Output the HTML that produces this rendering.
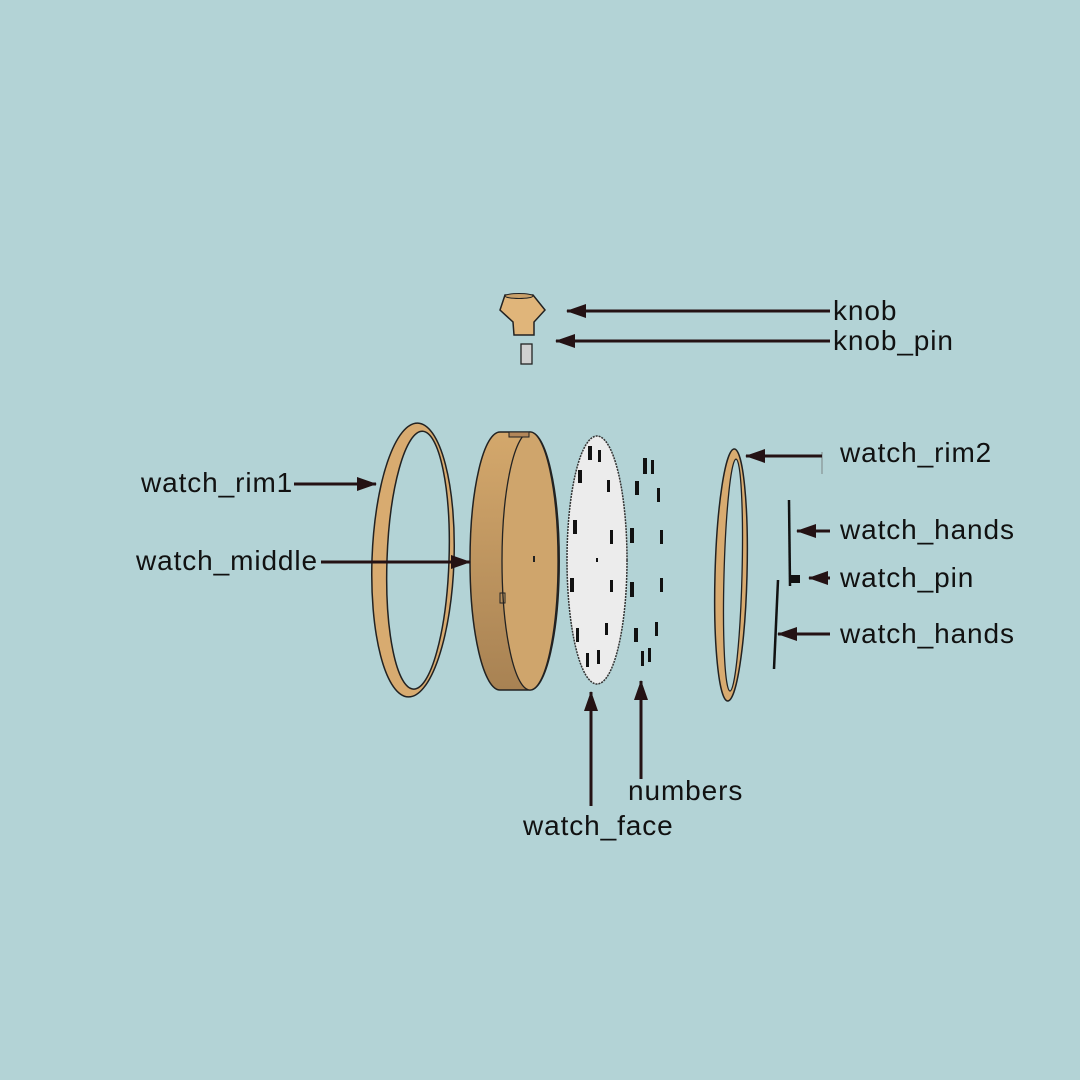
<!DOCTYPE html>
<html><head><style>
html,body{margin:0;padding:0;background:#b3d3d6;}
svg{display:block;}
text{font-family:"Liberation Sans",sans-serif;font-size:28px;letter-spacing:0.9px;fill:#111;}
</style></head><body>
<svg width="1080" height="1080" viewBox="0 0 1080 1080" xmlns="http://www.w3.org/2000/svg">
<defs>
<marker id="a" viewBox="0 0 20 14" refX="19" refY="7" markerWidth="20" markerHeight="14" orient="auto" markerUnits="userSpaceOnUse">
<path d="M0,0 L20,7 L0,14 Z" fill="#241214"/>
</marker>
<linearGradient id="gm" x1="0" y1="0" x2="0" y2="1">
<stop offset="0" stop-color="#d4a86c"/><stop offset="1" stop-color="#a88253"/>
</linearGradient>
</defs>
<rect width="1080" height="1080" fill="#b3d3d6"/>

<!-- knob -->
<path d="M505,295 L533,295 L545,310 L534,322 L534,335 L514,335 L513,322 L500,310 Z" fill="#e0b57a" stroke="#222" stroke-width="1.5"/>
<ellipse cx="519" cy="296" rx="14" ry="2.5" fill="#c9a06a" stroke="#222" stroke-width="1"/>
<rect x="521" y="344" width="11" height="20" fill="#d0d0d0" stroke="#222" stroke-width="1.3"/>

<!-- rim1 -->
<g transform="rotate(2 413 560)">
<ellipse cx="413" cy="560" rx="41" ry="137" fill="#d8ab70" stroke="#222" stroke-width="1.5"/>
<ellipse cx="418" cy="560" rx="31" ry="129" fill="#b3d3d6" stroke="#222" stroke-width="1.5"/>
</g>

<!-- watch middle -->
<path d="M500,432 L530,432 A29,128 0 0 1 530,690 L500,690 A30,129 0 0 1 500,432 Z" fill="url(#gm)" stroke="#222" stroke-width="1.5"/>
<ellipse cx="530" cy="561" rx="28" ry="129" fill="#cfa56c" stroke="#222" stroke-width="1.3"/>
<rect x="533" y="556" width="2" height="6" fill="#222"/>
<rect x="500" y="593" width="5" height="10" fill="none" stroke="#222" stroke-width="1"/>
<rect x="509" y="432" width="20" height="5" fill="#b3875a" stroke="#222" stroke-width="1"/>

<!-- watch face -->
<ellipse cx="597" cy="560" rx="30" ry="124" fill="#ececec" stroke="#333" stroke-width="1.5" stroke-dasharray="2 1"/>
<g fill="#111">
<rect x="588" y="446" width="4" height="14"/><rect x="598" y="450" width="3" height="12"/>
<rect x="578" y="470" width="4" height="13"/><rect x="607" y="480" width="3" height="12"/>
<rect x="573" y="520" width="4" height="14"/><rect x="610" y="530" width="3" height="14"/>
<rect x="596" y="558" width="2" height="4"/>
<rect x="570" y="578" width="4" height="14"/><rect x="610" y="580" width="3" height="12"/>
<rect x="576" y="628" width="3" height="14"/><rect x="605" y="623" width="3" height="12"/>
<rect x="586" y="653" width="3" height="14"/><rect x="597" y="650" width="3" height="14"/>
</g>
<!-- numbers -->
<g fill="#111">
<rect x="643" y="458" width="4" height="16"/><rect x="651" y="460" width="3" height="14"/>
<rect x="635" y="481" width="4" height="14"/><rect x="657" y="488" width="3" height="14"/>
<rect x="630" y="528" width="4" height="15"/><rect x="660" y="530" width="3" height="14"/>
<rect x="630" y="582" width="4" height="15"/><rect x="660" y="578" width="3" height="14"/>
<rect x="634" y="628" width="4" height="14"/><rect x="655" y="622" width="3" height="14"/>
<rect x="641" y="651" width="3" height="15"/><rect x="648" y="648" width="3" height="14"/>
</g>

<!-- rim2 -->
<g transform="rotate(1.5 731 575)">
<ellipse cx="731" cy="575" rx="16" ry="126" fill="#d8ab70" stroke="#222" stroke-width="1.5"/>
<ellipse cx="733" cy="575" rx="9" ry="116" fill="#b3d3d6" stroke="#222" stroke-width="1.3"/>
</g>

<!-- hands and pin -->
<line x1="789" y1="500" x2="790" y2="586" stroke="#111" stroke-width="2.5"/>
<rect x="791" y="575" width="9" height="8" fill="#111"/>
<line x1="778" y1="580" x2="774" y2="669" stroke="#111" stroke-width="2.5"/>
<line x1="822" y1="452" x2="822" y2="474" stroke="#666" stroke-width="0.7"/>

<!-- arrows -->
<g stroke="#241214" stroke-width="3" fill="none">
<line x1="830" y1="311" x2="567" y2="311" marker-end="url(#a)"/>
<line x1="830" y1="341" x2="556" y2="341" marker-end="url(#a)"/>
<line x1="822" y1="456" x2="746" y2="456" marker-end="url(#a)"/>
<line x1="830" y1="531" x2="797" y2="531" marker-end="url(#a)"/>
<line x1="830" y1="578" x2="809" y2="578" marker-end="url(#a)"/>
<line x1="830" y1="634" x2="778" y2="634" marker-end="url(#a)"/>
<line x1="294" y1="484" x2="376" y2="484" marker-end="url(#a)"/>
<line x1="321" y1="562" x2="470" y2="562" marker-end="url(#a)"/>
<line x1="591" y1="806" x2="591" y2="692" marker-end="url(#a)"/>
<line x1="641" y1="779" x2="641" y2="681" marker-end="url(#a)"/>
</g>

<text x="833" y="320">knob</text>
<text x="833" y="350">knob_pin</text>
<text x="840" y="462">watch_rim2</text>
<text x="840" y="539">watch_hands</text>
<text x="840" y="587">watch_pin</text>
<text x="840" y="643">watch_hands</text>
<text x="141" y="492">watch_rim1</text>
<text x="136" y="570">watch_middle</text>
<text x="628" y="800">numbers</text>
<text x="523" y="835">watch_face</text>
</svg>
</body></html>
